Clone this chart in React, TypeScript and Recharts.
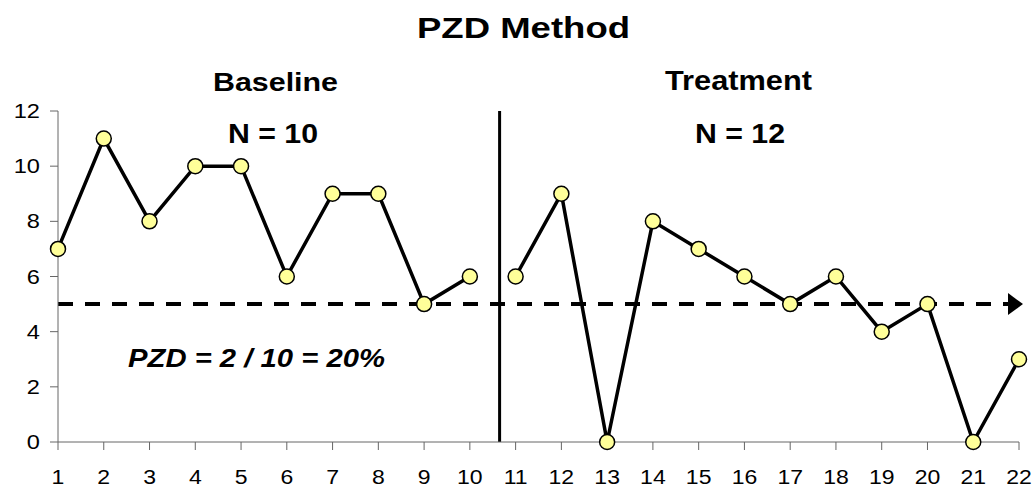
import { LineChart, Line, XAxis, YAxis, ReferenceLine, ReferenceDot } from "recharts";

const sessions = [1, 2, 3, 4, 5, 6, 7, 8, 9, 10, 11, 12, 13, 14, 15, 16, 17, 18, 19, 20, 21, 22];
const baselineValues = [7, 11, 8, 10, 10, 6, 9, 9, 5, 6];
const treatmentValues = [6, 9, 0, 8, 7, 6, 5, 6, 4, 5, 0, 3];
const yTicks = [0, 2, 4, 6, 8, 10, 12];
const phaseChange = 10.65;
const criterion = 5;
const arrowStart = 21.76;

const data = sessions.map((s, i) => ({
  session: s,
  baseline: i < baselineValues.length ? baselineValues[i] : null,
  treatment: i >= baselineValues.length ? treatmentValues[i - baselineValues.length] : null,
}));

const FONT = "'Liberation Sans', Arial, sans-serif";
const dotStyle = { r: 7.5, fill: "#FFFF99", stroke: "#000", strokeWidth: 1.5 };

// tick labels in the original are a bit wider than plain Arial
const XTick = ({ x, y, payload }: any) => (
  <text
    x={0}
    y={0}
    dy="0.71em"
    transform={`translate(${x},${y}) scale(1.18,1)`}
    textAnchor="middle"
    fontSize={19.5}
    fontFamily={FONT}
    fill="#000"
  >
    {payload.value}
  </text>
);

const YTick = ({ x, y, payload }: any) => (
  <text
    x={0}
    y={0}
    dy="0.355em"
    transform={`translate(${x},${y}) scale(1.18,1)`}
    textAnchor="end"
    fontSize={20}
    fontFamily={FONT}
    fill="#000"
  >
    {payload.value}
  </text>
);

const Arrow = ({ cx, cy }: any) => (
  <path d={`M${cx},${cy - 11} L${cx + 15},${cy} L${cx},${cy + 11} Z`} fill="#000" />
);

const Caption = ({ x, y, w, size, italic, children }: any) => (
  <text
    x={x}
    y={y}
    textAnchor="middle"
    fontSize={size}
    fontWeight="bold"
    fontStyle={italic ? "italic" : "normal"}
    fontFamily={FONT}
    textLength={w}
    lengthAdjust="spacingAndGlyphs"
    fill="#000"
  >
    {children}
  </text>
);

export default function App() {
  return (
    <div style={{ position: "absolute", left: 0, top: 0, width: 1035, height: 489, background: "#fff" }}>
      <LineChart
        width={1035}
        height={489}
        data={data}
        margin={{ top: 111, right: 16, left: 0, bottom: 7 }}
      >
        <XAxis
          dataKey="session"
          type="number"
          domain={[1, 22]}
          ticks={sessions}
          interval={0}
          height={40}
          stroke="#666"
          tickSize={8}
          tickMargin={20}
          tick={<XTick />}
        />
        <YAxis
          type="number"
          domain={[0, 12]}
          ticks={yTicks}
          width={58}
          stroke="#666"
          tickSize={8}
          tickMargin={10}
          tick={<YTick />}
        />
        <ReferenceLine x={phaseChange} stroke="#000" strokeWidth={3} />
        <ReferenceLine
          segment={[
            { x: 1, y: criterion },
            { x: arrowStart, y: criterion },
          ]}
          stroke="#000"
          strokeWidth={4}
          strokeDasharray="15 12"
        />
        <ReferenceDot x={arrowStart} y={criterion} shape={<Arrow />} ifOverflow="visible" />
        <Line
          type="linear"
          dataKey="baseline"
          stroke="#000"
          strokeWidth={3.5}
          dot={dotStyle}
          activeDot={false}
          isAnimationActive={false}
        />
        <Line
          type="linear"
          dataKey="treatment"
          stroke="#000"
          strokeWidth={3.5}
          dot={dotStyle}
          activeDot={false}
          isAnimationActive={false}
        />
      </LineChart>
      <svg
        width={1035}
        height={489}
        style={{ position: "absolute", left: 0, top: 0, pointerEvents: "none" }}
      >
        <Caption x={523.5} y={38} w={213} size={30}>PZD Method</Caption>
        <Caption x={275.5} y={90.5} w={125} size={26}>Baseline</Caption>
        <Caption x={738.5} y={90} w={147} size={27}>Treatment</Caption>
        <Caption x={273} y={142.5} w={90} size={27}>N = 10</Caption>
        <Caption x={740} y={143} w={90} size={27}>N = 12</Caption>
        <Caption x={256.5} y={366.5} w={257} size={26} italic>PZD = 2 / 10 = 20%</Caption>
      </svg>
    </div>
  );
}
